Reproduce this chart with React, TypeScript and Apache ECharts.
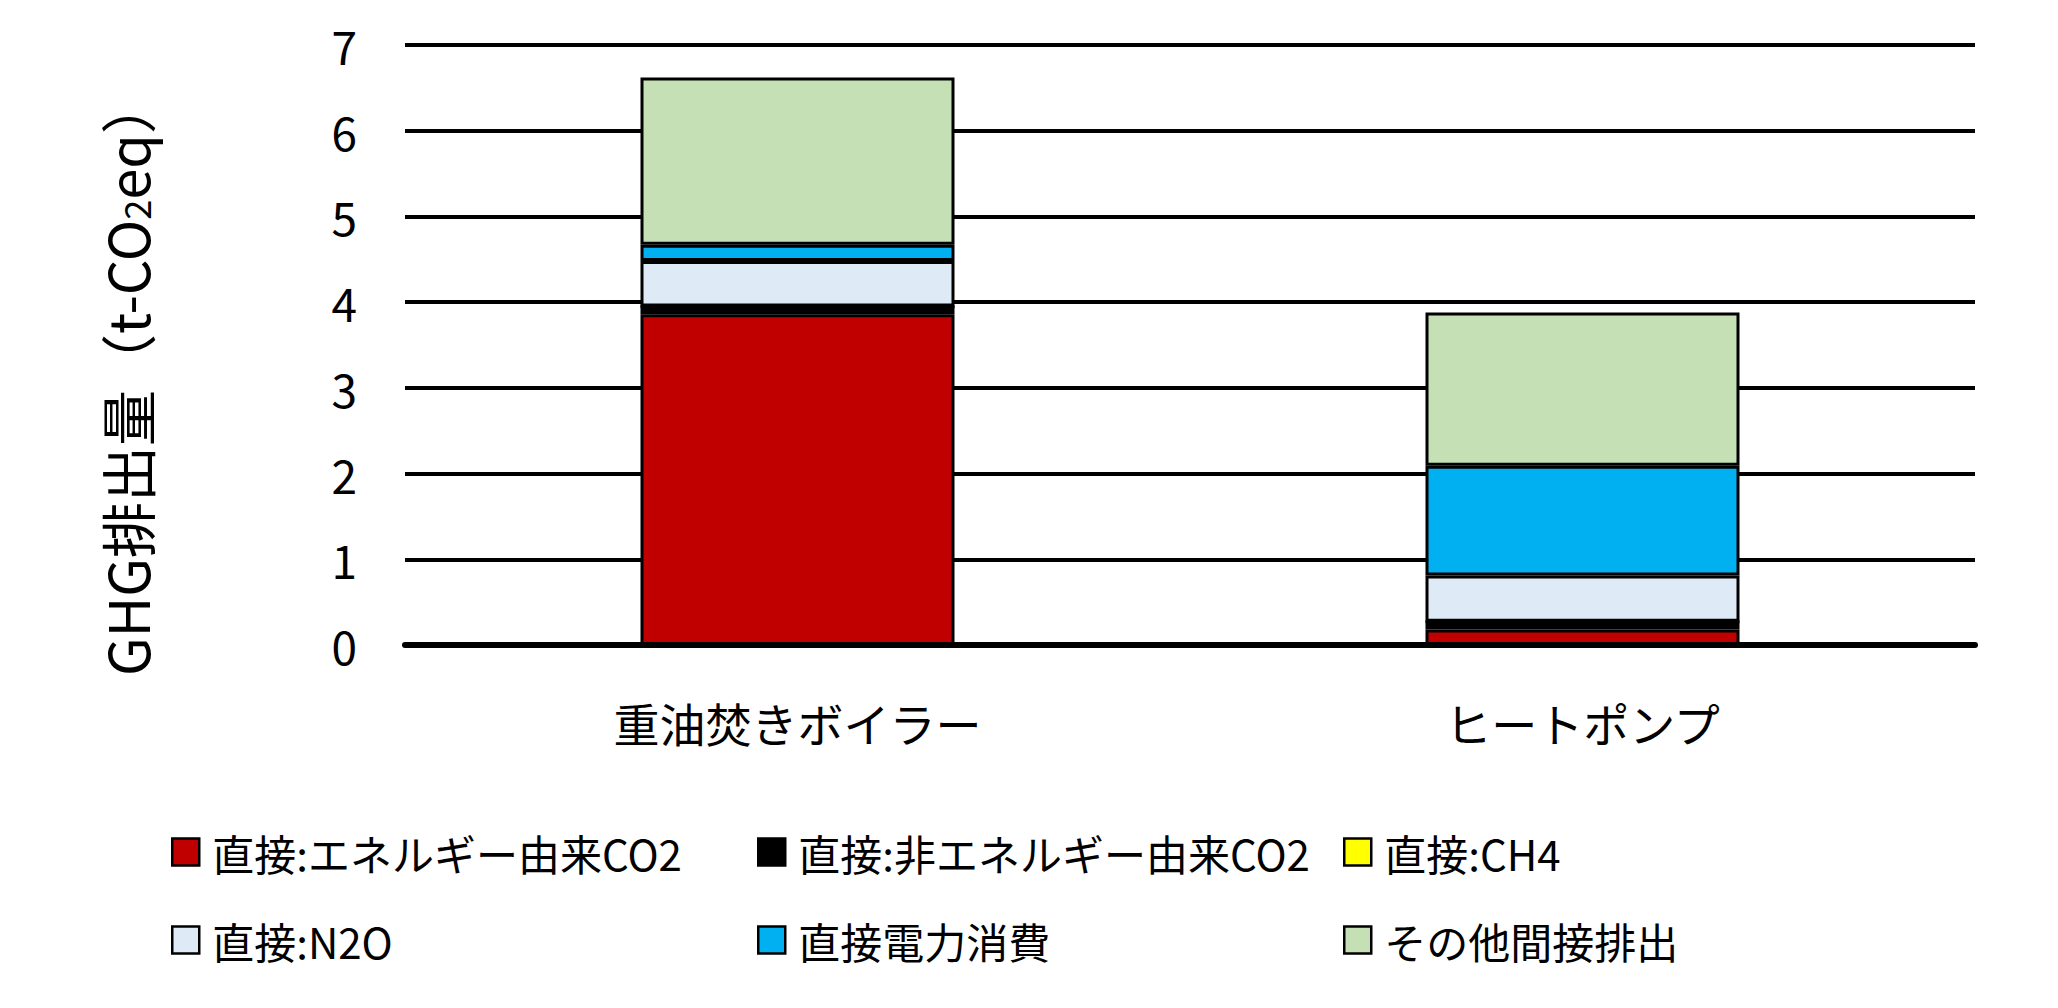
import React, { useEffect, useRef } from "react";
import * as echarts from "echarts";

const categories = ["重油焚きボイラー", "ヒートポンプ"];
const seriesNames = [
  "直接:エネルギー由来CO2",
  "直接:非エネルギー由来CO2",
  "直接:CH4",
  "直接:N2O",
  "直接電力消費",
  "その他間接排出",
];
const seriesColors = ["#C00000", "#000000", "#FFFF00", "#DEEBF7", "#00B0F0", "#C5E0B4"];
const energyCO2 = [3.86, 0.18];
const nonEnergyCO2 = [0.09, 0.09];
const ch4 = [0.0, 0.0];
const n2o = [0.53, 0.54];
const electricity = [0.19, 1.28];
const otherIndirect = [1.95, 1.79];
const seriesValues = [energyCO2, nonEnergyCO2, ch4, n2o, electricity, otherIndirect];
const yTicks = [0, 1, 2, 3, 4, 5, 6, 7];

const FONT = "'Noto Sans CJK JP', 'Noto Sans', sans-serif";

export default function App() {
  const ref = useRef<HTMLDivElement>(null);
  useEffect(() => {
    document.body.style.margin = "0";
    const chart = echarts.init(ref.current!, undefined, { renderer: "svg" });
    const legendCol = (names: string[], left: number) => ({
      orient: "vertical",
      left,
      top: 822,
      itemWidth: 27,
      itemHeight: 27,
      itemGap: 38,
      icon: "rect",
      selectedMode: false,
      data: names,
      itemStyle: { borderColor: "#000", borderWidth: 2.5 },
      textStyle: {
        fontFamily: FONT,
        fontSize: 42,
        color: "#000",
        lineHeight: 50,
        padding: [0, 0, 0, 8],
      },
    });
    chart.setOption({
      animation: false,
      backgroundColor: "#fff",
      textStyle: { fontFamily: FONT },
      grid: { left: 405, right: 83, top: 45, bottom: 363 },
      legend: [
        legendCol([seriesNames[0], seriesNames[3]], 166),
        legendCol([seriesNames[1], seriesNames[4]], 752),
        legendCol([seriesNames[2], seriesNames[5]], 1338),
      ],
      graphic: [
        {
          type: "text",
          x: 125,
          y: 377,
          rotation: Math.PI / 2,
          style: {
            text: "GHG排出量（t-CO{sub|2}eq）",
            fontFamily: FONT,
            fontSize: 56,
            fill: "#000",
            align: "center",
            verticalAlign: "middle",
            rich: {
              sub: { fontSize: 36, verticalAlign: "bottom", lineHeight: 32, fontFamily: FONT, fill: "#000" },
            },
          },
        },
      ],
      xAxis: {
        type: "category",
        data: categories,
        axisLine: { show: true, lineStyle: { color: "#000", width: 6 } },
        axisTick: { show: false },
        axisLabel: { fontFamily: FONT, fontSize: 46, color: "#000", margin: 54 },
      },
      yAxis: {
        type: "value",
        min: yTicks[0],
        max: yTicks[yTicks.length - 1],
        interval: 1,
        axisLine: { show: false },
        axisTick: { show: false },
        splitLine: { show: true, lineStyle: { color: "#000", width: 4 } },
        axisLabel: { fontFamily: FONT, fontSize: 46, color: "#000", margin: 48 },
      },
      series: seriesNames.map((name, i) => ({
        name,
        type: "bar",
        stack: "total",
        barWidth: "40%",
        data: seriesValues[i],
        itemStyle: { color: seriesColors[i], borderColor: "#000", borderWidth: 3 },
      })),
    });
    return () => chart.dispose();
  }, []);
  return <div ref={ref} style={{ width: 2058, height: 1008 }} />;
}
